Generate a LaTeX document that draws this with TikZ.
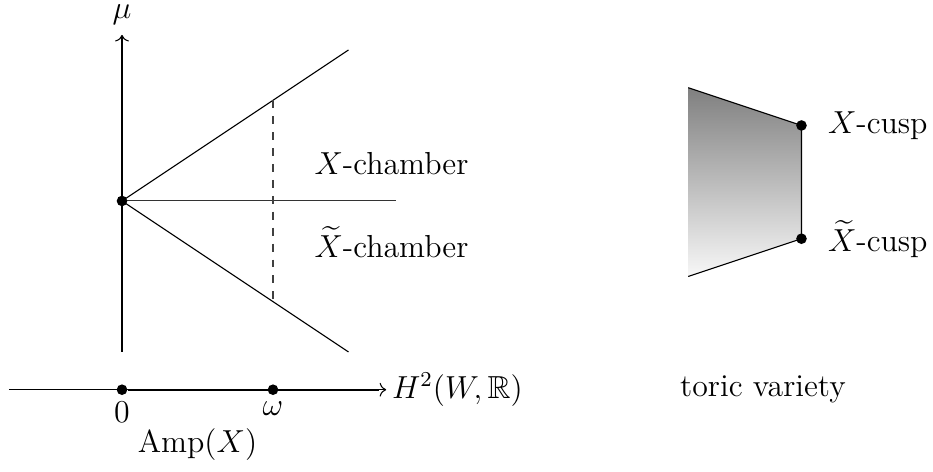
\documentclass[tikz,border=0pt]{standalone}
\usepackage{amssymb}
\usepackage{tikz}
\usetikzlibrary{arrows.meta,positioning}

\begin{document}
\begin{tikzpicture}[
    font=\large,
    axis/.style={->},
    ray/.style={thin},
    wall/.style={dashed,black!75},
    dot/.style={circle,fill=black,inner sep=0pt,minimum size=4pt},
    lbl/.style={inner sep=2pt}
]
\useasboundingbox (-1.616,-3.589) rectangle (10.742,2.662);

% chambers
\coordinate (o) at (0,0);
\coordinate (mubot) at (0,-2);
\coordinate (mutop) at (0,2.2);
\coordinate (up) at (3,2);
\coordinate (dn) at (3,-2);
\coordinate (hz) at (3.63,0);
\coordinate (wup) at (2,4/3);
\coordinate (wdn) at (2,-4/3);

\draw[axis] (mubot) -- (mutop);
\node[inner sep=1pt] (mu) at (0,2.47) {$\mu$};
\draw[ray] (o) -- (up);
\draw[ray] (o) -- (dn);
\draw[ray,black!80] (o) -- (hz);
\draw[wall] (wup) -- (wdn);
\node[dot] (origin) at (o) {};
\node (xch) at (3.57,0.5) {$X$-chamber};
\node (txch) at (3.57,-0.55) {$\widetilde{X}$-chamber};

% base line
\coordinate (hleft) at (-1.5,-2.5);
\coordinate (hright) at (3.5,-2.5);
\coordinate (hthick) at (3.4,-2.5);
\node[dot] (zero) at (0,-2.5) {};
\node[dot] (om) at (2,-2.5) {};
\draw[axis] (hleft) -- (hright) node[right,lbl] (h2) {$H^2(W,\mathbb{R})$};
\draw[thick] (zero) -- (hthick);
\node[below=-1pt of zero] (zlab) {$0$};
\node[below=-1pt of om] (omlab) {$\omega$};
\node (amp) at (1,-3.22) {$\mathrm{Amp}(X)$};

% toric picture
\coordinate (ta) at (7.5,1.5);
\coordinate (tb) at (9,1);
\coordinate (tc) at (9,-0.5);
\coordinate (td) at (7.5,-1);
\shade[top color=black!50,bottom color=black!3] (ta) -- (tb) -- (tc) -- (td) -- cycle;
\draw (ta) -- (tb) -- (tc) -- (td);
\node[dot] (xc) at (tb) {};
\node[dot] (txc) at (tc) {};
\node[right=0.15 of xc] (xclab) {$X$-cusp};
\node[right=0.15 of txc] (txclab) {$\widetilde{X}$-cusp};
\node (toric) at (8.49,-2.5) {toric variety};
\end{tikzpicture}
\end{document}
